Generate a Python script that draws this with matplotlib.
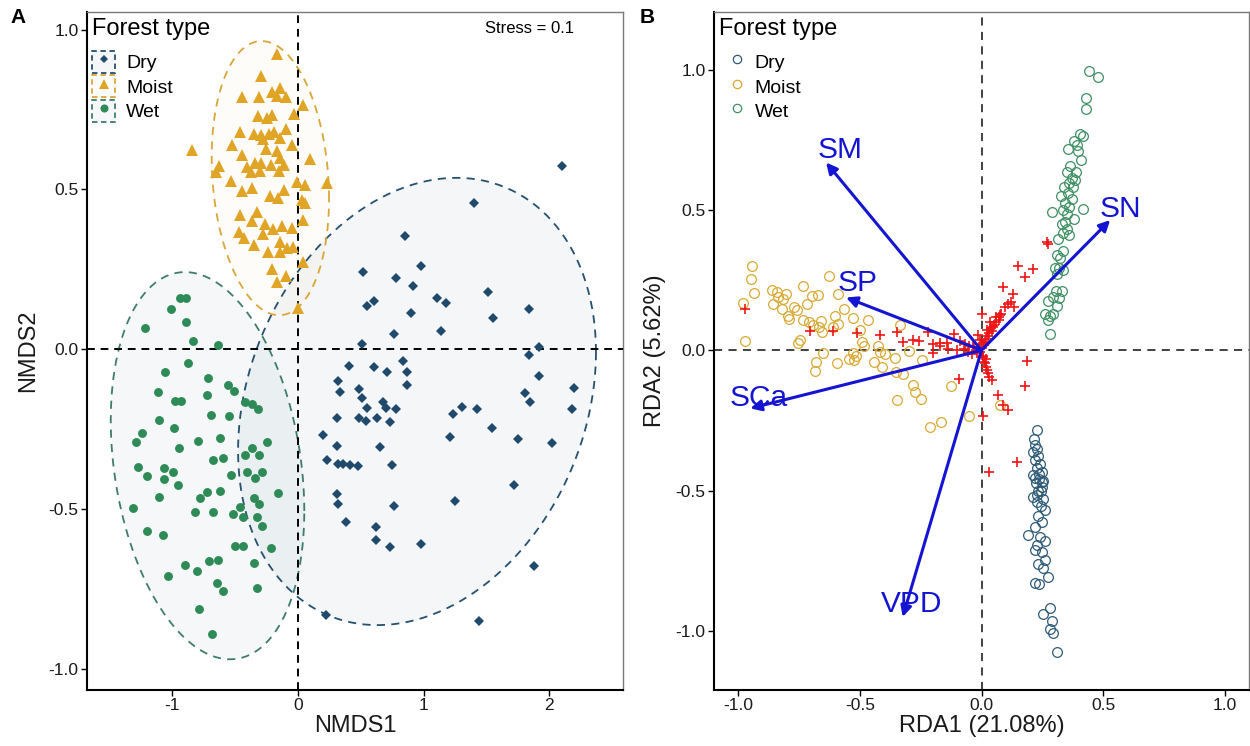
import numpy as np
import matplotlib
matplotlib.use('Agg')
import matplotlib.pyplot as plt
from matplotlib.patches import Patch
from matplotlib.lines import Line2D
from matplotlib.colors import to_rgba

plt.rcParams['font.family'] = ['Liberation Sans', 'DejaVu Sans']

# ---------------- Panel A data (NMDS) ----------------
groups = ['Dry', 'Moist', 'Wet']
legend_title = 'Forest type'

dry_x = [2.098, 1.403, 0.851, 0.979, 0.520, 0.777, 0.918, 0.546, 0.605, 1.103, 1.175, 1.509, 0.899, 1.554,
         1.840, 0.764, 1.138, 0.512, 1.920, 1.840, 0.406, 0.607, 0.711, 0.833, 0.870, 1.920, 0.321,
         0.334, 0.488, 0.865, 1.806, 2.196, 0.507, 0.674, 0.700, 0.551, 0.782, 0.308, 0.488, 0.539, 0.626,
         0.734, 1.236, 1.305, 1.424, 1.846, 2.177, 0.196, 0.313, 0.652, 1.212, 1.543, 1.753, 2.018, 0.233,
         0.321, 0.356, 0.411, 0.480, 0.745, 1.718, 0.308, 0.316, 0.766, 1.249, 0.384, 0.618, 0.618, 0.734,
         0.979, 1.875, 0.223, 1.440]
dry_y = [0.574, 0.456, 0.354, 0.261, 0.240, 0.224, 0.198, 0.136, 0.150, 0.159, 0.143, 0.178, 0.114, 0.098,
         0.124, 0.048, 0.057, 0.016, 0.005, -0.017, -0.052, -0.055, -0.071, -0.037, -0.073, -0.083, -0.100,
         -0.134, -0.126, -0.113, -0.136, -0.123, -0.154, -0.165, -0.184, -0.184, -0.186, -0.217, -0.215,
         -0.225, -0.215, -0.228, -0.204, -0.182, -0.187, -0.167, -0.188, -0.269, -0.304, -0.307, -0.274,
         -0.248, -0.282, -0.295, -0.347, -0.361, -0.361, -0.363, -0.365, -0.363, -0.424, -0.453, -0.486,
         -0.491, -0.474, -0.542, -0.558, -0.598, -0.619, -0.610, -0.679, -0.833, -0.851]

moist_x = [-0.165, -0.294, -0.448, -0.308, -0.209, -0.143, -0.170, -0.095, 0.042, -0.321, -0.244, -0.209,
           -0.029, -0.461, -0.350, -0.294, -0.228, -0.276, -0.188, -0.143, -0.095, -0.841, -0.523, -0.255,
           -0.170, -0.045, -0.443, -0.143, 0.095, -0.626, -0.652, -0.408, -0.342, -0.294, -0.374, -0.302,
           -0.217, -0.149, -0.109, -0.533, -0.011, 0.056, 0.228, -0.448, -0.369, -0.223, -0.156, -0.109,
           0.029, 0.056, -0.461, -0.329, -0.369, -0.263, -0.196, -0.130, -0.050, 0.042, -0.467, -0.427,
           -0.281, -0.350, -0.143, -0.090, -0.037, -0.241, -0.143, -0.209, -0.095, -0.170, 0.042, 0.000]
moist_y = [0.925, 0.855, 0.790, 0.788, 0.805, 0.816, 0.792, 0.788, 0.764, 0.729, 0.724, 0.732, 0.736, 0.680,
           0.672, 0.670, 0.672, 0.659, 0.680, 0.661, 0.688, 0.623, 0.638, 0.625, 0.620, 0.638, 0.609, 0.597,
           0.595, 0.574, 0.555, 0.571, 0.581, 0.581, 0.555, 0.557, 0.576, 0.557, 0.576, 0.527, 0.524, 0.515,
           0.519, 0.496, 0.505, 0.480, 0.474, 0.498, 0.466, 0.456, 0.419, 0.430, 0.401, 0.393, 0.375, 0.386,
           0.378, 0.404, 0.367, 0.348, 0.359, 0.326, 0.336, 0.315, 0.320, 0.303, 0.303, 0.250, 0.229, 0.211,
           0.273, 0.130]

wet_x = [-0.939, -0.891, -1.013, -1.217, -0.891, -0.833, -0.639, -0.873, -1.058, -0.713, -1.116, -0.727,
         -0.554, -0.509, -0.979, -0.933, -0.692, -0.546, -0.422, -0.369, -0.316, -1.108, -0.986, -1.238,
         -1.289, -0.944, -0.793, -0.621, -0.244, -0.422, -0.364, -0.308, -0.674, -0.594, -1.275, -1.204,
         -1.066, -0.992, -1.064, -0.952, -0.535, -0.408, -0.342, -0.289, -0.162, -1.103, -0.780, -0.727,
         -0.621, -0.350, -0.308, -1.310, -0.819, -0.674, -0.520, -0.461, -0.435, -0.324, -0.289, -1.204,
         -1.077, -0.501, -0.435, -0.217, -0.899, -0.806, -0.711, -0.634, -0.347, -1.037, -0.647, -0.594,
         -0.324, -0.785, -0.682]
wet_y = [0.159, 0.159, 0.124, 0.065, 0.086, 0.025, 0.013, -0.045, -0.073, -0.090, -0.134, -0.144, -0.113,
         -0.131, -0.163, -0.163, -0.207, -0.209, -0.167, -0.173, -0.188, -0.222, -0.246, -0.264, -0.290,
         -0.309, -0.288, -0.278, -0.292, -0.330, -0.311, -0.330, -0.347, -0.342, -0.368, -0.397, -0.373,
         -0.384, -0.407, -0.426, -0.394, -0.386, -0.405, -0.384, -0.452, -0.462, -0.465, -0.447, -0.444,
         -0.467, -0.485, -0.497, -0.509, -0.509, -0.517, -0.494, -0.525, -0.525, -0.554, -0.570, -0.582,
         -0.617, -0.617, -0.624, -0.676, -0.695, -0.664, -0.661, -0.669, -0.710, -0.731, -0.757, -0.747,
         -0.814, -0.892]

# confidence ellipses: centre and covariance-like terms (sx^2, sxy, sy^2)
ell_center_x = [0.947, -0.220, -0.720]
ell_center_y = [-0.164, 0.535, -0.365]
ell_sx = [1.424, 0.467, 0.770]
ell_sy = [0.700, 0.429, 0.606]
ell_sxy = [0.220, -0.030, -0.109]

stress_label = 'Stress = 0.1'

# ---------------- Panel B data (RDA) ----------------
rda_dry_x = [0.227, 0.216, 0.220, 0.227, 0.213, 0.234, 0.220, 0.241, 0.227, 0.248, 0.213, 0.238, 0.254,
             0.224, 0.248, 0.234, 0.213, 0.254, 0.227, 0.244, 0.261, 0.234, 0.248, 0.220, 0.193, 0.241,
             0.261, 0.227, 0.220, 0.248, 0.261, 0.234, 0.254, 0.275, 0.220, 0.238, 0.282, 0.254, 0.289,
             0.282, 0.293, 0.309, 0.236, 0.222, 0.245, 0.230, 0.250]
rda_dry_y = [-0.285, -0.316, -0.337, -0.350, -0.364, -0.378, -0.391, -0.405, -0.419, -0.432, -0.446,
             -0.460, -0.467, -0.474, -0.487, -0.501, -0.521, -0.528, -0.542, -0.556, -0.569, -0.590, -0.610,
             -0.631, -0.658, -0.665, -0.679, -0.693, -0.713, -0.720, -0.747, -0.761, -0.775, -0.809, -0.830,
             -0.832, -0.918, -0.939, -0.966, -0.994, -1.007, -1.076, -0.440, -0.455, -0.500, -0.515, -0.470]

rda_moist_x = [-0.942, -0.947, -0.935, -0.979, -0.972, -0.862, -0.841, -0.803, -0.858, -0.835, -0.817,
               -0.821, -0.794, -0.769, -0.759, -0.790, -0.732, -0.697, -0.674, -0.716, -0.732, -0.711,
               -0.691, -0.670, -0.656, -0.661, -0.746, -0.753, -0.629, -0.591, -0.565, -0.602, -0.592,
               -0.609, -0.527, -0.465, -0.499, -0.337, -0.492, -0.485, -0.424, -0.417, -0.396, -0.355,
               -0.300, -0.245, -0.680, -0.684, -0.595, -0.543, -0.524, -0.515, -0.444, -0.410, -0.351,
               -0.321, -0.652, -0.527, -0.280, -0.273, -0.249, -0.126, -0.348, -0.211, -0.167, -0.050,
               0.076]
rda_moist_y = [0.299, 0.255, 0.205, 0.170, 0.033, 0.214, 0.208, 0.202, 0.164, 0.190, 0.184, 0.148, 0.121,
               0.154, 0.142, 0.113, 0.228, 0.192, 0.196, 0.164, 0.107, 0.101, 0.089, 0.083, 0.065, 0.103,
               0.036, 0.026, 0.266, 0.199, 0.148, 0.121, 0.093, 0.083, 0.116, 0.107, 0.071, 0.090, 0.030,
               0.014, 0.014, -0.006, -0.012, -0.026, -0.002, -0.033, -0.042, -0.074, -0.047, -0.030, -0.033,
               -0.021, -0.042, -0.059, -0.079, -0.083, -0.010, -0.010, -0.125, -0.148, -0.172, -0.128,
               -0.178, -0.273, -0.257, -0.234, -0.196]

rda_wet_x = [0.443, 0.478, 0.429, 0.430, 0.405, 0.419, 0.382, 0.392, 0.357, 0.398, 0.408, 0.364, 0.389,
             0.351, 0.371, 0.385, 0.361, 0.339, 0.375, 0.357, 0.326, 0.371, 0.344, 0.361, 0.337, 0.353,
             0.416, 0.291, 0.381, 0.344, 0.330, 0.351, 0.337, 0.361, 0.316, 0.334, 0.312, 0.323, 0.303,
             0.320, 0.337, 0.309, 0.330, 0.307, 0.296, 0.320, 0.275, 0.309, 0.261, 0.282, 0.296, 0.275,
             0.282]
rda_wet_y = [0.994, 0.973, 0.899, 0.861, 0.772, 0.765, 0.745, 0.731, 0.717, 0.710, 0.679, 0.656, 0.635,
             0.635, 0.615, 0.608, 0.597, 0.583, 0.580, 0.560, 0.550, 0.539, 0.523, 0.509, 0.498, 0.487,
             0.505, 0.494, 0.468, 0.457, 0.450, 0.432, 0.419, 0.409, 0.396, 0.354, 0.341, 0.327, 0.293,
             0.293, 0.286, 0.272, 0.211, 0.211, 0.190, 0.186, 0.177, 0.156, 0.129, 0.122, 0.129, 0.108,
             0.058]

species_x = [-0.974, -0.704, -0.611, -0.513, -0.417, -0.346, -0.324, -0.280, -0.259, -0.221, -0.198,
             -0.170, -0.143, -0.115, -0.088, -0.067, -0.198, -0.170, -0.136, -0.102, -0.074, -0.054,
             -0.033, 0.001, 0.022, 0.035, 0.049, 0.060, 0.070, 0.076, 0.090, 0.097, 0.111, 0.120, 0.131,
             0.134, 0.152, 0.179, 0.213, 0.268, 0.275, 0.008, 0.015, 0.022, 0.032, 0.042, 0.186, 0.179,
             0.067, 0.090, 0.111, -0.091, 0.005, -0.013, -0.006, 0.008, -0.019, -0.040, 0.032, 0.148,
             0.010, 0.020, 0.030, 0.040, 0.050, 0.015, 0.025, -0.010, -0.020, 0.005, 0.012, 0.020, 0.026,
             0.060, 0.072, 0.082, -0.030, -0.050, -0.008, 0.004, 0.018, 0.045]
species_y = [0.146, 0.068, 0.070, 0.062, 0.056, 0.064, 0.030, 0.038, 0.033, 0.065, 0.024, 0.026, 0.026,
             0.059, 0.033, 0.024, -0.010, 0.014, 0.006, 0.000, 0.006, -0.006, 0.012, 0.131, 0.071, 0.101,
             0.083, 0.119, 0.107, 0.125, 0.225, 0.154, 0.166, 0.172, 0.202, 0.154, 0.299, 0.261, 0.291,
             0.385, 0.377, -0.024, -0.047, -0.071, -0.095, -0.107, -0.038, -0.128, -0.160, -0.196, -0.214,
             -0.104, -0.234, 0.053, 0.036, 0.024, 0.000, -0.012, -0.432, -0.398,
             0.020, 0.040, 0.060, 0.080, 0.090, 0.030, 0.050, 0.010, -0.010, -0.020, -0.040, -0.060,
             -0.080, 0.100, 0.120, 0.130, 0.010, 0.015, -0.005, 0.008, -0.030, 0.070]

env_names = ['SM', 'SP', 'SCa', 'VPD', 'SN']
env_x = [-0.639, -0.557, -0.951, -0.324, 0.529]
env_y = [0.669, 0.188, -0.207, -0.950, 0.464]
env_label_x = [-0.582, -0.511, -0.917, -0.286, 0.570]
env_label_y = [0.712, 0.238, -0.171, -0.904, 0.502]

# ---------------- styling ----------------
col_dry = '#1f4a6b'
col_moist = '#e0a526'
col_wet = '#2e8b57'
line_dry = '#25506e'
line_moist = '#d9a63a'
line_wet = '#3f7c6c'
fill_cols = [to_rgba('#2a5578', 0.05), to_rgba('#e6b84a', 0.035), to_rgba('#3f6f7c', 0.05)]
line_cols = [line_dry, line_moist, line_wet]

ob_dry = '#2f5b78'
ob_moist = '#d8a935'
ob_wet = '#3f9064'
arrow_col = '#1414d2'

fig = plt.figure(figsize=(12.5, 7.46), dpi=100)
axA = fig.add_axes([0.0696, 0.0751, 0.4288, 0.9088])
axB = fig.add_axes([0.5712, 0.0751, 0.4280, 0.9088])


def style_axes(ax):
    for s in ('left', 'bottom'):
        ax.spines[s].set_color('black')
        ax.spines[s].set_linewidth(1.5)
    for s in ('top', 'right'):
        ax.spines[s].set_color('#7a7a7a')
        ax.spines[s].set_linewidth(1.0)
    ax.tick_params(direction='out', length=4, width=1.0, labelsize=12.5, colors='black',
                   labelcolor='#1a1a1a', pad=2)


# ---------- Panel A ----------
style_axes(axA)
axA.set_xlim(-1.679, 2.586)
axA.set_ylim(-1.067, 1.055)
t = np.linspace(0, 2 * np.pi, 300)
for i in range(3):
    cov = np.array([[ell_sx[i] ** 2, ell_sxy[i]], [ell_sxy[i], ell_sy[i] ** 2]])
    L = np.linalg.cholesky(cov)
    pts = L @ np.vstack([np.cos(t), np.sin(t)])
    ex = ell_center_x[i] + pts[0]
    ey = ell_center_y[i] + pts[1]
    axA.fill(ex, ey, color=fill_cols[i], lw=0, zorder=1)
    axA.plot(ex, ey, color=line_cols[i], lw=1.3, ls=(0, (4.5, 3.5)), zorder=2)

axA.axvline(0, color='black', lw=1.4, ls=(0, (4, 3)), zorder=3)
axA.axhline(0, color='black', lw=1.4, ls=(0, (4, 3)), zorder=3)

axA.plot(dry_x, dry_y, ls='', marker='D', ms=4.6, color=col_dry, mew=0, zorder=4)
axA.plot(moist_x, moist_y, ls='', marker='^', ms=8.5, color=col_moist, mew=0, zorder=4)
axA.plot(wet_x, wet_y, ls='', marker='o', ms=6.4, color=col_wet, mew=0, zorder=4)

axA.set_xticks([-1, 0, 1, 2])
axA.set_yticks([-1.0, -0.5, 0.0, 0.5, 1.0])
axA.set_yticklabels(['-1.0', '-0.5', '0.0', '0.5', '1.0'])
axA.set_xticklabels(['-1', '0', '1', '2'])
axA.set_xlabel('NMDS1', fontsize=17, color='#1a1a1a', labelpad=1)
axA.set_ylabel('NMDS2', fontsize=17, color='#1a1a1a', labelpad=7)
axA.text(0.825, 0.975, stress_label, transform=axA.transAxes, ha='center', va='center',
         fontsize=12, color='black')

markers = ['D', '^', 'o']
msz = [4.2, 6.8, 5.8]
pcols = [col_dry, col_moist, col_wet]
handlesA = []
for i in range(3):
    p = Patch(facecolor=fill_cols[i], edgecolor=line_cols[i], lw=1.3, ls=(0, (3, 2)))
    m = Line2D([], [], ls='', marker=markers[i], ms=msz[i], color=pcols[i], mew=0)
    handlesA.append((p, m))
axA.text(0.009, 0.975, legend_title, transform=axA.transAxes, ha='left', va='center',
         fontsize=17, color='black')
legA = axA.legend(handlesA, groups, loc='upper left',
                  bbox_to_anchor=(0.0093, 0.943), frameon=False, fontsize=14,
                  handlelength=1.2, handleheight=1.36, labelspacing=0.13,
                  handletextpad=0.56, borderaxespad=0.0, borderpad=0.0)

# ---------- Panel B ----------
style_axes(axB)
axB.set_xlim(-1.10, 1.10)
axB.set_ylim(-1.21, 1.205)
axB.axvline(0, color='#333333', lw=1.3, ls=(0, (4.5, 3.5)), zorder=1)
axB.axhline(0, color='#333333', lw=1.3, ls=(0, (4.5, 3.5)), zorder=1)

axB.plot(rda_dry_x, rda_dry_y, ls='', marker='o', ms=7, mfc='none', mec=ob_dry, mew=0.9, zorder=2)
axB.plot(rda_moist_x, rda_moist_y, ls='', marker='o', ms=7, mfc='none', mec=ob_moist, mew=0.9, zorder=2)
axB.plot(rda_wet_x, rda_wet_y, ls='', marker='o', ms=7, mfc='none', mec=ob_wet, mew=0.9, zorder=2)
axB.plot(species_x, species_y, ls='', marker='+', ms=7, color='#ee1515', mew=1.2, zorder=3)

for name, ex, ey, lx, ly in zip(env_names, env_x, env_y, env_label_x, env_label_y):
    axB.annotate('', xy=(ex, ey), xytext=(0, 0),
                 arrowprops=dict(arrowstyle='-|>', color=arrow_col, lw=2.2, mutation_scale=16,
                                 shrinkA=0, shrinkB=0), zorder=4)
    axB.text(lx, ly, name, color=arrow_col, fontsize=21.5, ha='center', va='center', zorder=5)

axB.set_xticks([-1.0, -0.5, 0.0, 0.5, 1.0])
axB.set_xticklabels(['-1.0', '-0.5', '0.0', '0.5', '1.0'])
axB.set_yticks([-1.0, -0.5, 0.0, 0.5, 1.0])
axB.set_yticklabels(['-1.0', '-0.5', '0.0', '0.5', '1.0'])
axB.set_xlabel('RDA1 (21.08%)', fontsize=17, color='#1a1a1a', labelpad=1)
axB.set_ylabel('RDA2 (5.62%)', fontsize=17, color='#1a1a1a', labelpad=7)

handlesB = [Line2D([], [], ls='', marker='o', ms=6, mfc='none', mec=c, mew=0.9)
            for c in (ob_dry, ob_moist, ob_wet)]
axB.text(0.009, 0.975, legend_title, transform=axB.transAxes, ha='left', va='center',
         fontsize=17, color='black')
legB = axB.legend(handlesB, groups, loc='upper left',
                  bbox_to_anchor=(0.024, 0.943), frameon=False, fontsize=14,
                  handlelength=1.0, handleheight=1.36, labelspacing=0.13, handletextpad=0.42,
                  borderaxespad=0.0, borderpad=0.0)

fig.text(0.0144, 0.976, 'A', fontsize=15, fontweight='bold', va='center', ha='center')
fig.text(0.5176, 0.976, 'B', fontsize=15, fontweight='bold', va='center', ha='center')

fig.savefig('out.png', dpi=100)
